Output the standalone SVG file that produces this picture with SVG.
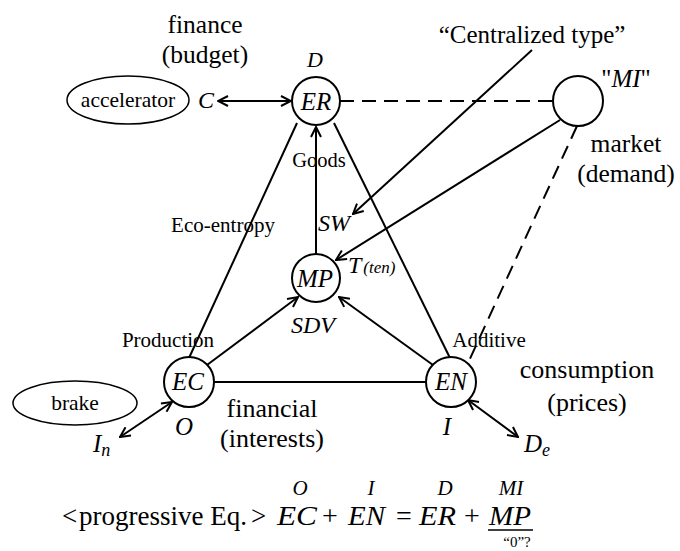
<svg xmlns="http://www.w3.org/2000/svg" width="680" height="551" viewBox="0 0 680 551">
<style>
.t{font-family:"Liberation Serif","Times New Roman",serif;fill:#000}
.m{font-family:"Liberation Serif",serif;font-style:italic;fill:#000}
.c{fill:#fff;stroke:#000;stroke-width:2}
.e{fill:#fff;stroke:#000;stroke-width:1.5}
.l{stroke:#000;stroke-width:2;fill:none}
.d{stroke:#000;stroke-width:2;fill:none;stroke-dasharray:14,8}
</style>
<defs>
<marker id="ah" viewBox="0 0 12 12" refX="11" refY="6" markerWidth="12" markerHeight="12" markerUnits="userSpaceOnUse" orient="auto-start-reverse">
<path d="M1,1 L11,6 L1,11" fill="none" stroke="#000" stroke-width="2"/>
</marker>
</defs>
<rect width="680" height="551" fill="#fff"/>
<g id="connectors">
<line class="l" x1="218" y1="101" x2="291" y2="101" marker-start="url(#ah)" marker-end="url(#ah)"/>
<line class="d" x1="340" y1="101" x2="553" y2="101"/>
<line class="l" x1="189" y1="358" x2="297" y2="123"/>
<line class="l" x1="334" y1="123" x2="450" y2="358"/>
<line class="l" x1="316" y1="254" x2="316" y2="127" marker-end="url(#ah)"/>
<line class="l" x1="214" y1="382" x2="426" y2="382"/>
<line class="l" x1="207" y1="365" x2="298" y2="297" marker-end="url(#ah)"/>
<line class="l" x1="433" y1="365" x2="339" y2="297" marker-end="url(#ah)"/>
<line class="l" x1="560" y1="120" x2="336" y2="260" marker-end="url(#ah)"/>
<line class="l" x1="532" y1="50" x2="353" y2="214" marker-end="url(#ah)"/>
<line class="d" x1="577" y1="126" x2="468" y2="363"/>
<line class="l" x1="172" y1="402" x2="120" y2="437" marker-start="url(#ah)" marker-end="url(#ah)"/>
<line class="l" x1="468" y1="400" x2="518" y2="437" marker-start="url(#ah)" marker-end="url(#ah)"/>
</g>
<g id="ER"><circle class="c" cx="316" cy="101" r="24"/><text class="m" x="316" y="110" font-size="25" text-anchor="middle">ER</text></g>
<g id="MI"><circle class="c" cx="578" cy="101" r="25"/></g>
<g id="MP"><circle class="c" cx="316" cy="278" r="24"/><text class="m" x="315" y="287" font-size="25" text-anchor="middle">MP</text></g>
<g id="EC"><circle class="c" cx="189" cy="382" r="25"/><text class="m" x="188" y="390" font-size="25" text-anchor="middle">EC</text></g>
<g id="EN"><circle class="c" cx="451" cy="382" r="25"/><text class="m" x="451" y="390" font-size="25" text-anchor="middle">EN</text></g>
<g id="accelerator"><ellipse class="e" cx="128" cy="100" rx="61" ry="24"/><text class="t" x="128" y="107" font-size="21.5" text-anchor="middle">accelerator</text></g>
<g id="brake"><ellipse class="e" cx="75" cy="403" rx="62" ry="22"/><text class="t" x="75" y="410" font-size="21.5" text-anchor="middle">brake</text></g>
<g id="labels">
<text class="t" x="205" y="33" font-size="25.5" text-anchor="middle">finance</text>
<text class="t" x="205" y="63" font-size="25.5" text-anchor="middle">(budget)</text>
<text class="m" x="315" y="67" font-size="22" text-anchor="middle">D</text>
<text class="m" x="206" y="108" font-size="24" text-anchor="middle">C</text>
<text class="t" x="532" y="43" font-size="25" text-anchor="middle">“Centralized type”</text>
<text class="m" x="626" y="87" font-size="25" text-anchor="middle"><tspan font-style="normal">"</tspan>MI<tspan font-style="normal">"</tspan></text>
<text class="t" x="626" y="152" font-size="25.5" text-anchor="middle">market</text>
<text class="t" x="626" y="182" font-size="25.5" text-anchor="middle">(demand)</text>
<text class="t" x="319" y="167" font-size="20.5" text-anchor="middle">Goods</text>
<text class="m" x="334" y="231" font-size="24" text-anchor="middle">SW</text>
<text class="t" x="223" y="232" font-size="21" text-anchor="middle">Eco-entropy</text>
<text class="m" x="348" y="273" font-size="24">T<tspan font-size="17" dx="2">(ten)</tspan></text>
<text class="m" x="313" y="333" font-size="24" text-anchor="middle">SDV</text>
<text class="t" x="168" y="347" font-size="21" text-anchor="middle">Production</text>
<text class="t" x="489" y="347" font-size="21" text-anchor="middle">Additive</text>
<text class="t" x="587" y="378" font-size="26" text-anchor="middle">consumption</text>
<text class="t" x="587" y="411" font-size="26" text-anchor="middle">(prices)</text>
<text class="t" x="272" y="417" font-size="26" text-anchor="middle">financial</text>
<text class="t" x="272" y="447" font-size="26" text-anchor="middle">(interests)</text>
<text class="m" x="184" y="435" font-size="25" text-anchor="middle">O</text>
<text class="m" x="447" y="435" font-size="25" text-anchor="middle">I</text>
<text class="m" x="93" y="452" font-size="25">I<tspan font-size="18" dy="4">n</tspan></text>
<text class="m" x="524" y="452" font-size="25">D<tspan font-size="18" dy="4">e</tspan></text>
</g>
<g id="equation">
<text class="t" x="62" y="525" font-size="27">&lt;<tspan x="79">progressive Eq.</tspan><tspan x="251">&gt;</tspan></text>
<text class="m" x="300" y="495" font-size="21" text-anchor="middle">O</text>
<text class="m" x="371" y="495" font-size="21" text-anchor="middle">I</text>
<text class="m" x="445" y="495" font-size="21" text-anchor="middle">D</text>
<text class="m" x="511" y="495" font-size="21" text-anchor="middle">MI</text>
<text class="m" x="277" y="525" font-size="28" textLength="40" lengthAdjust="spacingAndGlyphs">EC</text>
<text class="t" x="330" y="525" font-size="28" text-anchor="middle">+</text>
<text class="m" x="348" y="525" font-size="28" textLength="37" lengthAdjust="spacingAndGlyphs">EN</text>
<text class="t" x="404" y="525" font-size="28" text-anchor="middle">=</text>
<text class="m" x="419" y="525" font-size="28" textLength="37" lengthAdjust="spacingAndGlyphs">ER</text>
<text class="t" x="472" y="525" font-size="28" text-anchor="middle">+</text>
<text class="m" x="489" y="525" font-size="28" textLength="42" lengthAdjust="spacingAndGlyphs">MP</text>
<line x1="488" y1="530" x2="533" y2="530" stroke="#000" stroke-width="1.5"/>
<text class="t" x="517" y="547" font-size="15" text-anchor="middle">“0”?</text>
</g>
</svg>
